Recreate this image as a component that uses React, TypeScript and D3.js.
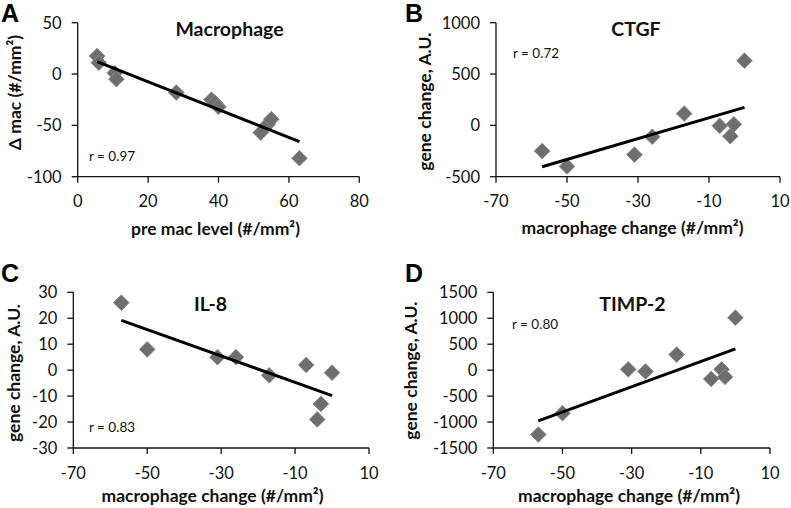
import React from "react";
import * as d3 from "d3";

// ---- data ----
const preMacLevel = [5.5, 6, 10.5, 11, 28, 38, 39, 40, 52, 54, 55, 63];
const deltaMac = [17.5, 11, 1, -5, -18, -25, -28, -32, -57, -49, -44, -82];
const macChange = [-57, -50, -31, -26, -17, -7, -4, -3, 0];
const ctgfChange = [-250, -400, -285, -110, 115, -5, -105, 10, 630];
const il8Change = [26, 8, 5, 5, -2, 2, -19, -13, -1];
const timp2Change = [-1240, -830, 15, -25, 300, -170, 15, -130, 1010];

const xTicksA = [0, 20, 40, 60, 80];
const yTicksA = [-100, -50, 0, 50];
const xTicksMac = [-70, -50, -30, -10, 10];
const yTicksB = [-500, 0, 500, 1000];
const yTicksC = [-30, -20, -10, 0, 10, 20, 30];
const yTicksD = [-1500, -1000, -500, 0, 500, 1000, 1500];

const panelLetters = ["A", "B", "C", "D"];
const panelTitles = ["Macrophage", "CTGF", "IL-8", "TIMP-2"];
const rLabels = ["r = 0.97", "r = 0.72", "r = 0.83", "r = 0.80"];
const yTitles = ["Δ mac  (#/mm²)", "gene change, A.U.", "gene change, A.U.", "gene change, A.U."];
const xTitles = ["pre mac level (#/mm²)", "macrophage change (#/mm²)", "macrophage change (#/mm²)", "macrophage change (#/mm²)"];

// ---- layout (positions only) ----
const layouts = [
  { x0: 77.7, x1: 359.3, y0: 176.7, y1: 22.7, letter: [1, 22], title: [229.5, 36], r: [89, 160.7], yt: [21, 92.5], xt: [215.5, 235] },
  { x0: 496, x1: 780, y0: 176.7, y1: 22.7, letter: [405, 22], title: [636, 36], r: [513, 58], yt: [431, 101.7], xt: [632.5, 233.5] },
  { x0: 73.3, x1: 369, y0: 448, y1: 292.3, letter: [1, 282], title: [210.5, 311], r: [89, 432], yt: [20, 373], xt: [212.5, 502] },
  { x0: 493.3, x1: 770, y0: 448, y1: 292.3, letter: [405, 282], title: [632.5, 310.7], r: [512, 329], yt: [417, 370.7], xt: [629, 502] },
];

const panels = [
  { xs: preMacLevel, ys: deltaMac, xTicks: xTicksA, yTicks: yTicksA },
  { xs: macChange, ys: ctgfChange, xTicks: xTicksMac, yTicks: yTicksB },
  { xs: macChange, ys: il8Change, xTicks: xTicksMac, yTicks: yTicksC },
  { xs: macChange, ys: timp2Change, xTicks: xTicksMac, yTicks: yTicksD },
];

function fit(xs: number[], ys: number[]) {
  const mx = d3.mean(xs)!;
  const my = d3.mean(ys)!;
  let sxy = 0, sxx = 0;
  xs.forEach((x, i) => {
    sxy += (x - mx) * (ys[i] - my);
    sxx += (x - mx) * (x - mx);
  });
  const b = sxy / sxx;
  const a = my - b * mx;
  return (x: number) => a + b * x;
}

const FONT = "Lato, 'Open Sans', sans-serif";
const diamond = d3.symbol().type(d3.symbolSquare).size(124)();

function Panel({ idx }: { idx: number }) {
  const p = panels[idx];
  const L = layouts[idx];
  const xScale = d3.scaleLinear().domain(d3.extent(p.xTicks) as [number, number]).range([L.x0, L.x1]);
  const yScale = d3.scaleLinear().domain(d3.extent(p.yTicks) as [number, number]).range([L.y0, L.y1]);
  const f = fit(p.xs, p.ys);
  const [xmin, xmax] = d3.extent(p.xs) as [number, number];
  const line = d3.line<number>().x((d) => xScale(d)).y((d) => yScale(f(d)));
  const tick = 6;
  return (
    <g>
      {/* axes */}
      <line x1={L.x0} x2={L.x1} y1={L.y0} y2={L.y0} stroke="#111" strokeWidth={1.3} />
      <line x1={L.x0} x2={L.x0} y1={L.y0} y2={L.y1} stroke="#111" strokeWidth={1.3} />
      {p.xTicks.map((t) => (
        <g key={"xt" + t}>
          <line x1={xScale(t)} x2={xScale(t)} y1={L.y0} y2={L.y0 + tick} stroke="#111" strokeWidth={1.3} />
          <text x={xScale(t)} y={L.y0 + 30.5} textAnchor="middle" fontFamily={FONT} fontSize={16.5} fill="#111">{t}</text>
        </g>
      ))}
      {p.yTicks.map((t) => (
        <g key={"yt" + t}>
          <line x1={L.x0 - tick} x2={L.x0} y1={yScale(t)} y2={yScale(t)} stroke="#111" strokeWidth={1.3} />
          <text x={L.x0 - 16} y={yScale(t)} dy="0.36em" textAnchor="end" fontFamily={FONT} fontSize={16.5} fill="#111">{t}</text>
        </g>
      ))}
      {/* points */}
      {p.xs.map((x, i) => (
        <path key={"pt" + i} d={diamond!} transform={`translate(${xScale(x)},${yScale(p.ys[i])}) rotate(45)`} fill="#6e6e6e" stroke="#8c8c8c" strokeWidth={0.8} />
      ))}
      {/* regression line */}
      <path d={line([xmin, xmax])!} stroke="#000" strokeWidth={3} fill="none" />
      {/* texts */}
      <text x={L.letter[0]} y={L.letter[1]} fontFamily="'Liberation Sans', Arial, sans-serif" fontWeight="bold" fontSize={25} fill="#000">{panelLetters[idx]}</text>
      <text x={L.title[0]} y={L.title[1]} textAnchor="middle" fontFamily={FONT} fontWeight="bold" fontSize={19.5} fill="#111">{panelTitles[idx]}</text>
      <text x={L.r[0]} y={L.r[1]} fontFamily={FONT} fontSize={13.5} fill="#111">{rLabels[idx]}</text>
      <text transform={`translate(${L.yt[0]},${L.yt[1]}) rotate(-90)`} textAnchor="middle" fontFamily={FONT} fontWeight="bold" fontSize={17.5} fill="#111">{yTitles[idx]}</text>
      <text x={L.xt[0]} y={L.xt[1]} textAnchor="middle" fontFamily={FONT} fontWeight="bold" fontSize={17.5} fill="#111">{xTitles[idx]}</text>
    </g>
  );
}

export default function App() {
  return (
    <svg width={791} height={508} style={{ position: "absolute", left: 0, top: 0, background: "#fff" }}>
      <rect width={791} height={508} fill="#fff" />
      {panels.map((_, i) => (
        <Panel key={i} idx={i} />
      ))}
    </svg>
  );
}
